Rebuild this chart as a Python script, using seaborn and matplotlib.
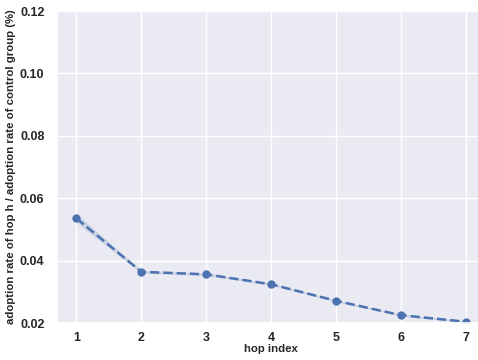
import matplotlib
matplotlib.use("Agg")
import matplotlib.pyplot as plt
import seaborn as sns
import pandas as pd

hops = [1, 2, 3, 4, 5, 6, 7]
ratio_mean = [0.0535, 0.0364, 0.0356, 0.0324, 0.0271, 0.0225, 0.0204]
ratio_low = [0.0522, 0.0360, 0.0352, 0.0321, 0.0268, 0.0222, 0.0201]
ratio_high = [0.0550, 0.0368, 0.0360, 0.0327, 0.0274, 0.0228, 0.0207]
yticks = [0.02, 0.04, 0.06, 0.08, 0.10, 0.12]

sns.set_theme(style="darkgrid")
plt.rcParams["font.family"] = ["Liberation Sans", "DejaVu Sans"]

df = pd.DataFrame({"hop": hops, "ratio": ratio_mean})

fig = plt.figure(figsize=(4.78, 3.6), dpi=100)
ax = fig.add_axes([57 / 478, 37 / 360, 428.5 / 478, 312 / 360])

color = sns.color_palette("deep")[0]
ax.fill_between(hops, ratio_low, ratio_high, color=color, alpha=0.2, linewidth=0)
sns.lineplot(data=df, x="hop", y="ratio", ax=ax, color=color, marker="o",
             markersize=6, markeredgewidth=0, linestyle="--", linewidth=1.8)

ax.set_xlim(0.7, 7.3)
ax.set_ylim(0.02, 0.12)
ax.set_xticks(hops)
ax.set_yticks(yticks)
ax.set_yticklabels([f"{v:.2f}" for v in yticks])
for lab in ax.get_xticklabels() + ax.get_yticklabels():
    lab.set_fontweight("bold")
    lab.set_fontsize(9)
ax.tick_params(axis="x", pad=0.5)
ax.tick_params(axis="y", pad=3)
ax.set_xlabel("hop index", fontsize=8.2, fontweight="bold", labelpad=0)
ax.set_ylabel("adoption rate of hop h / adoption rate of control group (%)",
              fontsize=8.2, fontweight="bold", labelpad=3)

fig.savefig("out.png", dpi=100)
